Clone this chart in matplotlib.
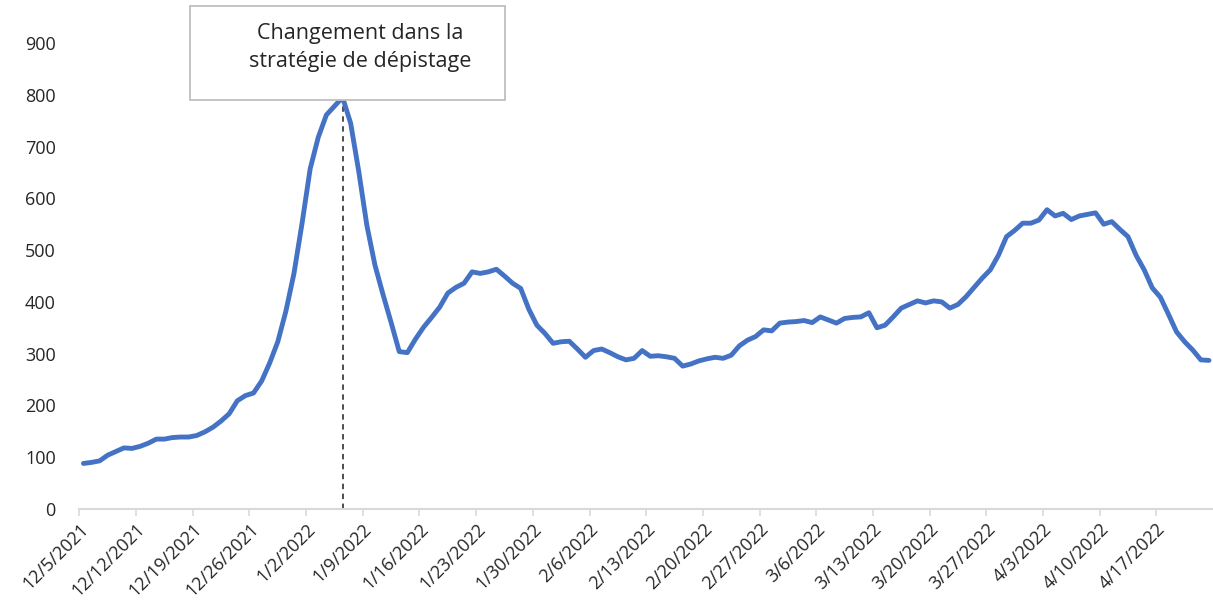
import matplotlib
matplotlib.use("Agg")
import matplotlib.pyplot as plt
from matplotlib.patches import Rectangle
import pandas as pd

plt.rcParams['font.family'] = ['Open Sans', 'DejaVu Sans']

start_date = "2021-12-05"
values = [88, 90, 93, 104, 111, 118, 117, 121, 127, 135,
          135, 138, 139, 139, 142, 149, 158, 170, 184, 209,
          219, 224, 247, 282, 323, 382, 455, 552, 657, 718,
          761, 778, 795, 745, 652, 548, 471, 414, 360, 304,
          302, 328, 351, 370, 390, 417, 428, 436, 458, 455,
          458, 463, 450, 436, 426, 386, 355, 339, 320, 323,
          324, 309, 293, 306, 309, 302, 294, 288, 291, 306,
          295, 296, 294, 291, 276, 280, 286, 290, 293, 291,
          297, 315, 326, 333, 346, 344, 359, 361, 362, 364,
          360, 371, 365, 359, 368, 370, 371, 379, 350, 355,
          371, 388, 395, 402, 398, 402, 400, 388, 395, 410,
          428, 446, 462, 490, 526, 538, 552, 552, 558, 578,
          566, 571, 559, 566, 569, 572, 550, 555, 540, 526,
          490, 462, 427, 409, 376, 342, 323, 307, 288, 287]
dates = pd.date_range(start_date, periods=len(values), freq="D")
labels = [f"{d.month}/{d.day}/{d.year}" for d in dates]
change_date = pd.Timestamp("2022-01-06")
annotation_text = "Changement dans la\nstratégie de dépistage"
y_ticks = list(range(0, 901, 100))

fig = plt.figure(figsize=(12.13, 6.13), dpi=100)
ax = fig.add_axes([79.4 / 1213, 104 / 613, 1133.6 / 1213, 466 / 613])

x = list(range(len(values)))
ax.plot(x, values, color="#4472C4", linewidth=3.5, solid_joinstyle="round",
        solid_capstyle="round", zorder=3, clip_on=False)

ci = list(dates).index(change_date)
ax.vlines(ci, 0, values[ci], colors="#404040", linestyles=(0, (3, 2.5)),
          linewidth=1.3, zorder=2)

ax.set_xlim(-0.5, len(values) - 0.5)
ax.set_ylim(0, 900)
ax.set_yticks(y_ticks)
ax.set_yticklabels([str(v) for v in y_ticks])

tick_idx = list(range(0, len(values), 7))
ax.set_xticks([i - 0.5 for i in tick_idx])
ax.set_xticklabels([labels[i] for i in tick_idx])

for s in ["top", "right", "left"]:
    ax.spines[s].set_visible(False)
ax.spines["bottom"].set_color("#D9D9D9")
ax.spines["bottom"].set_linewidth(1.5)

ax.tick_params(axis="y", length=0, pad=17, labelsize=13, labelcolor="#262626")
ax.tick_params(axis="x", length=5, width=1.2, color="#D9D9D9", pad=3,
               labelsize=13, labelcolor="#262626")
for lab in ax.get_xticklabels():
    lab.set_rotation(45)
    lab.set_ha("right")
    lab.set_va("top")
    lab.set_rotation_mode("anchor")

box = Rectangle((0.0976, 0.8777), 0.2778, 0.2013, transform=ax.transAxes,
                facecolor="white", edgecolor="#BFBFBF", linewidth=1.3,
                zorder=5, clip_on=False)
ax.add_patch(box)
ax.text(0.2474, 0.990, annotation_text, transform=ax.transAxes,
        ha="center", va="center", fontsize=15.5, color="#262626",
        linespacing=1.45, zorder=6)

fig.savefig("out.png", dpi=100)
